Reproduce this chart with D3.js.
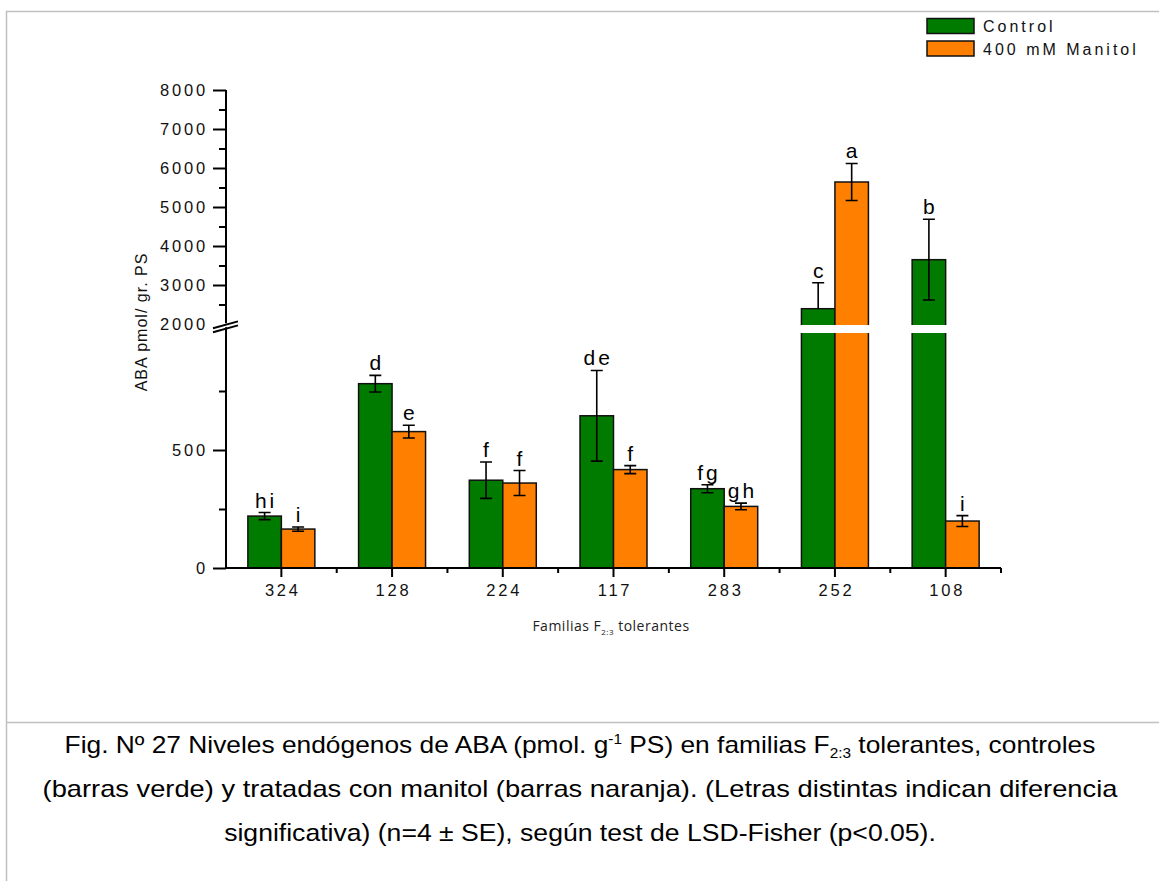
<!DOCTYPE html>
<html>
<head>
<meta charset="utf-8">
<script src="https://cdn.jsdelivr.net/npm/d3@7"></script>
<style>
  body { margin: 0; background: #fff; }
  svg { display: block; }
</style>
</head>
<body>
<svg width="1159" height="881"></svg>
<script>
// data
let families = ["324", "128", "224", "117", "283", "252", "108"];
let series = ["Control", "400 mM Manitol"];
let control = [220, 781, 372, 645, 336, 2392, 3649];
let controlSE = [15, 35, 77, 192, 17, 665, 1035];
let manitol = [165, 578, 360, 417, 261, 5641, 199];
let manitolSE = [9, 27, 53, 17, 14, 475, 23];
let controlLetters = ["hi", "d", "f", "de", "fg", "c", "b"];
let manitolLetters = ["i", "e", "f", "f", "gh", "a", "i"];
let lowTicks = [0, 500];
let lowMinor = [250, 750];
let highTicks = [2000, 3000, 4000, 5000, 6000, 7000, 8000];
let highMinor = [2500, 3500, 4500, 5500, 6500, 7500];
let colors = ["#007b00", "#ff8000"];
let captionLines = [
  ["Fig. Nº 27 Niveles endógenos de ABA (pmol. g", {sup: "-1"}, " PS) en familias F", {sub: "2:3"}, " tolerantes, controles"],
  ["(barras verde) y tratadas con manitol (barras naranja). (Letras distintas indican diferencia"],
  ["significativa) (n=4 ± SE), según test de LSD-Fisher (p<0.05)."]
];

let svg = d3.select("svg");
let font = "'Liberation Sans', Arial, sans-serif";

// frame lines
svg.append("path")
  .attr("d", "M6.5,881V11.5H1159M7,722.5H1159")
  .attr("fill", "none")
  .attr("stroke", "#c0c0c0")
  .attr("stroke-width", 1.5);

// scales (broken y axis: 0-1000 below, 2000-8000 above)
let x0 = d3.scaleBand().domain(families).range([226, 1001])
  .paddingInner(0.395).paddingOuter(0.1975);
let x1 = d3.scaleBand().domain(series).range([0, x0.bandwidth()]);
let y = d3.scaleLinear().domain([0, 1000, 2000, 8000]).range([568, 332, 324, 90]);

let rows = families.map((f, i) => ({
  f: f,
  vals: [
    {s: series[0], v: control[i], se: controlSE[i], l: controlLetters[i], c: colors[0]},
    {s: series[1], v: manitol[i], se: manitolSE[i], l: manitolLetters[i], c: colors[1]}
  ]
}));
let allBars = rows.flatMap(r => r.vals.map(d => Object.assign({f: r.f}, d)));
let bx = d => x0(d.f) + x1(d.s);
let cx = d => bx(d) + x1.bandwidth() / 2;

//bars
svg.append("g").selectAll("rect")
  .data(allBars)
  .enter()
  .append("rect")
  .attr("x", bx)
  .attr("y", d => y(d.v))
  .attr("width", x1.bandwidth())
  .attr("height", d => y(0) - y(d.v))
  .attr("fill", d => d.c)
  .attr("stroke", "#111")
  .attr("stroke-width", 1.5);

//error bars
let eb = svg.append("g").attr("stroke", "#000").attr("stroke-width", 1.6).attr("fill", "none");
allBars.forEach(d => {
  let top = d.v + d.se;
  let bot = d.v - d.se;
  let hideLow = d.v >= 2000 && bot < 2000;
  let p = "M" + (cx(d) - 6) + "," + y(top) + "H" + (cx(d) + 6) + "M" + cx(d) + "," + y(top) + "V" + y(d.v);
  if (!hideLow) p += "V" + y(bot) + "M" + (cx(d) - 6) + "," + y(bot) + "H" + (cx(d) + 6);
  eb.append("path").attr("d", p);
});

// white gap through the bars at the break
svg.append("rect")
  .attr("x", 228)
  .attr("y", y(2000) + 1)
  .attr("width", 1001 - 228)
  .attr("height", y(1000) - y(2000))
  .attr("fill", "#fff");

//significance letters
svg.append("g").selectAll("text")
  .data(allBars)
  .enter()
  .append("text")
  .attr("x", d => cx(d) + 1.5)
  .attr("y", d => y(d.v + d.se) - 5)
  .attr("text-anchor", "middle")
  .style("font-family", font)
  .style("font-size", "21px")
  .style("letter-spacing", "3px")
  .text(d => d.l);

// y axis
let styleAxis = g => {
  g.select(".domain").remove();
  g.selectAll("line").attr("stroke", "#000").attr("stroke-width", 2);
  g.selectAll("text")
    .attr("fill", "#111")
    .style("font-family", font)
    .style("font-size", "16.5px")
    .style("letter-spacing", "2.8px");
};
let yAxes = svg.append("g").attr("transform", "translate(226,0)");
yAxes.append("g")
  .call(d3.axisLeft(y).tickValues(lowTicks).tickSize(13).tickPadding(5).tickFormat(d3.format("d")))
  .call(styleAxis);
yAxes.append("g")
  .call(d3.axisLeft(y).tickValues(lowMinor.concat(highMinor)).tickSize(7).tickFormat(""))
  .call(styleAxis);
yAxes.append("g")
  .call(d3.axisLeft(y).tickValues(highTicks).tickSize(13).tickPadding(5).tickFormat(d3.format("d")))
  .call(styleAxis)
  .call(g => g.selectAll(".tick").filter(d => d === 2000).select("line").remove());

// axis lines + break marks
let yb = y(2000) + 1.3;
svg.append("path")
  .attr("d", "M226," + y(8000) + "V" + (yb - 2) + "M226," + (yb + 2) + "V" + y(0) + "H1001")
  .attr("fill", "none")
  .attr("stroke", "#000")
  .attr("stroke-width", 2);
svg.append("path")
  .attr("d", "M213," + (yb - 0.5 + 3.4) + "L238," + (yb - 0.5 - 3.4) + "M213," + (yb + 3.5 + 3.4) + "L238," + (yb + 3.5 - 3.4))
  .attr("fill", "none")
  .attr("stroke", "#000")
  .attr("stroke-width", 2);

// x axis
svg.append("g")
  .attr("transform", "translate(0," + y(0) + ")")
  .call(d3.axisBottom(x0).tickSize(9).tickPadding(7))
  .call(styleAxis)
  .call(g => g.selectAll("text").attr("dx", "1.5px"));
svg.append("g")
  .selectAll("line")
  .data(families)
  .enter()
  .append("line")
  .attr("x1", d => x0(d) + x0.step() * (1 - x0.paddingInner() / 2))
  .attr("x2", d => x0(d) + x0.step() * (1 - x0.paddingInner() / 2))
  .attr("y1", y(0))
  .attr("y2", y(0) + 5)
  .attr("stroke", "#000")
  .attr("stroke-width", 2);

// axis titles
svg.append("text")
  .attr("transform", "translate(147,322) rotate(-90)")
  .attr("text-anchor", "middle")
  .style("font-family", font)
  .style("font-size", "16px")
  .style("letter-spacing", "1px")
  .attr("fill", "#111")
  .text("ABA pmol/ gr. PS");

let xt = svg.append("text")
  .attr("x", 611)
  .attr("y", 631)
  .attr("text-anchor", "middle")
  .style("font-family", "'Open Sans', sans-serif")
  .style("font-size", "14px")
  .style("letter-spacing", "0.5px")
  .attr("fill", "#222");
xt.append("tspan").text("Familias F");
xt.append("tspan").attr("dy", 4).style("font-size", "8px").text("2:3");
xt.append("tspan").attr("dy", -4).text(" tolerantes");

// legend
let leg = svg.append("g");
series.forEach((s, i) => {
  leg.append("rect")
    .attr("x", 927).attr("y", 18.5 + i * 22.5)
    .attr("width", 47).attr("height", 15)
    .attr("fill", colors[i])
    .attr("stroke", "#111")
    .attr("stroke-width", 1.5);
  leg.append("text")
    .attr("x", 983).attr("y", 32 + i * 23)
    .style("font-family", font)
    .style("font-size", "16px")
    .style("letter-spacing", "3px")
    .attr("fill", "#111")
    .text(s);
});

// caption
let capWidths = [1031, 1075, 712];
captionLines.forEach((parts, i) => {
  let g = svg.append("g");
  let t = g.append("text")
    .attr("text-anchor", "middle")
    .style("font-family", font)
    .style("font-size", "24px")
    .attr("fill", "#000");
  let shift = 0;
  parts.forEach(p => {
    if (typeof p === "string") {
      t.append("tspan").attr("dy", -shift).text(p);
      shift = 0;
    } else if (p.sup) {
      t.append("tspan").attr("dy", -9).style("font-size", "14px").text(p.sup);
      shift = -9;
    } else {
      t.append("tspan").attr("dy", 5).style("font-size", "14px").text(p.sub);
      shift = 5;
    }
  });
  let w = t.node().getComputedTextLength();
  g.attr("transform", "translate(580," + (753 + i * 44) + ") scale(" + (capWidths[i] / w) + ",1)");
});
</script>
</body>
</html>
